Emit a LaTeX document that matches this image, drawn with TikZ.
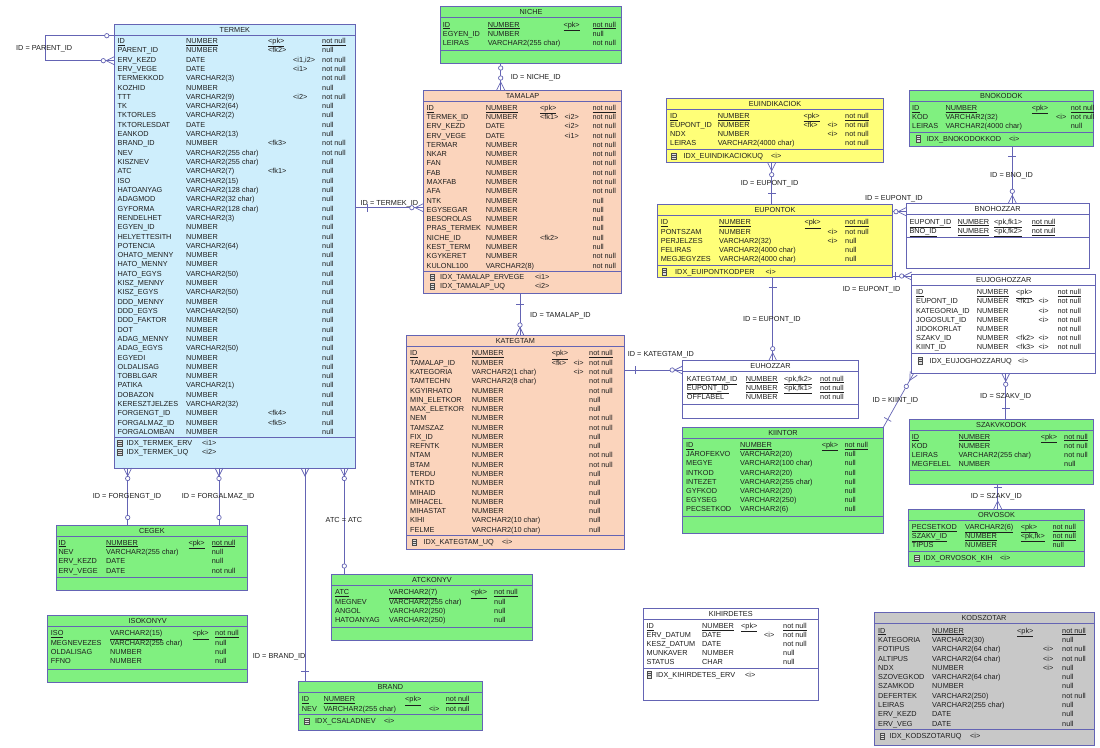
\documentclass[tikz,border=0pt]{standalone}
\usepackage{fontspec}
\setmainfont{Liberation Sans}
\usetikzlibrary{decorations.markings}
\definecolor{lnc}{RGB}{100,100,180}
\definecolor{txc}{RGB}{30,30,30}
\definecolor{cblue}{RGB}{206,238,252}
\definecolor{cgreen}{RGB}{128,240,128}
\definecolor{cpeach}{RGB}{251,212,188}
\definecolor{cyellow}{RGB}{255,255,120}
\definecolor{cgrey}{RGB}{200,200,200}
\newcounter{fc}
\newcommand\fnt{\fontsize{7.3}{8}\selectfont}
\tikzset{
  tbl/.style={draw=lnc, line width=0.8pt, anchor=north west, inner sep=0pt, outer sep=0pt},
  tline/.style={draw=lnc, line width=0.8pt},
  fld/.style={font=\fnt, text=txc, anchor=base west, inner sep=0pt, yshift=-2.6pt},
  ttl/.style={font=\fnt, text=txc, anchor=base, inner sep=0pt, yshift=-2.6pt},
  icn/.style={draw=black!70, fill=black!12, line width=0.4pt},
  rel/.style={draw=lnc, line width=0.7pt},
  mk/.style 2 args={postaction={decorate,decoration={markings,mark=at position #1 with {#2}}}},
  bar/.style={mk={#1}{\draw[lnc,line width=0.7pt] (0pt,-4pt) -- (0pt,4pt);}},
  circ/.style={mk={#1}{\draw[lnc,line width=0.7pt,fill=white] (0pt,0pt) circle (2.2pt);}},
  crowE/.style={mk={-8pt}{\draw[lnc,line width=0.7pt] (8pt,4pt) -- (0pt,0pt) -- (8pt,-4pt);}},
  crowS/.style={mk={8pt}{\draw[lnc,line width=0.7pt] (-8pt,4pt) -- (0pt,0pt) -- (-8pt,-4pt);}},
}
\newcommand\ent[7]{%
  \node[tbl, fill=#6, minimum width=#4pt, minimum height=#5pt] (#1) at (#2,#3) {};
  \draw[tline] (#2,#3+11) -- (#2+#4,#3+11);
  \node[ttl] (#1T) at (#2+#4/2,#3+5.5) {#7};
  \def\tx{#2}\def\tw{#4}}
\newcommand\sep[1]{\draw[tline] (\tx,#1) -- (\tx+\tw,#1);}
\newcommand\cols[5]{\def\ca{#1}\def\cb{#2}\def\cc{#3}\def\cd{#4}\def\ce{#5}}
\newcommand\rows[2]{\def\ry{#1}\def\rd{#2}}
\newcommand\fl[3]{\if\relax\detokenize{#3}\relax\else\stepcounter{fc}\node[fld] (f\arabic{fc}) at (#1,#2) {#3};\fi}
\newcommand\flu[3]{\if\relax\detokenize{#3}\relax\else\stepcounter{fc}\node[fld] (f\arabic{fc}) at (#1,#2) {\underline{#3}};\fi}
\newcommand\R[5]{\fl\ca\ry{#1}\fl\cb\ry{#2}\fl\cc\ry{#3}\fl\cd\ry{#4}\fl\ce\ry{#5}\pgfmathsetmacro\ry{\ry+\rd}}
\newcommand\RU[5]{\flu\ca\ry{#1}\flu\cb\ry{#2}\flu\cc\ry{#3}\flu\cd\ry{#4}\flu\ce\ry{#5}\pgfmathsetmacro\ry{\ry+\rd}}
\newcommand\IX[6]{%
  \draw[icn] (#1-2.3,#4-3.3) rectangle (#1+2.3,#4+3.3);
  \draw[black!70,line width=0.35pt] (#1-2.3,#4-1.1) -- (#1+2.3,#4-1.1) (#1-2.3,#4+1.1) -- (#1+2.3,#4+1.1);
  \fl{#2}{#4}{#5}\fl{#3}{#4}{#6}}
\newcommand\lb[4]{\node[fld] (#1) at (#2,#3) {#4};}
\begin{document}
\begin{tikzpicture}[x=1pt,y=-1pt]
\fill[white] (0,0) rectangle (1100,747);
\useasboundingbox (0,0) rectangle (1100,747);

% ---------------- TERMEK
\ent{TERMEK}{114.3}{24}{241}{444}{cblue}{TERMEK}
\cols{117.5}{186}{268}{293}{322}\rows{40.9}{9.31}
\RU{ID}{NUMBER}{<pk>}{}{not null}
\R{PARENT\_ID}{NUMBER}{<fk2>}{}{null}
\R{ERV\_KEZD}{DATE}{}{<i1,i2>}{not null}
\R{ERV\_VEGE}{DATE}{}{<i1>}{not null}
\R{TERMEKKOD}{VARCHAR2(3)}{}{}{not null}
\R{KOZHID}{NUMBER}{}{}{null}
\R{TTT}{VARCHAR2(9)}{}{<i2>}{not null}
\R{TK}{VARCHAR2(64)}{}{}{null}
\R{TKTORLES}{VARCHAR2(2)}{}{}{null}
\R{TKTORLESDAT}{DATE}{}{}{null}
\R{EANKOD}{VARCHAR2(13)}{}{}{null}
\R{BRAND\_ID}{NUMBER}{<fk3>}{}{not null}
\R{NEV}{VARCHAR2(255 char)}{}{}{not null}
\R{KISZNEV}{VARCHAR2(255 char)}{}{}{null}
\R{ATC}{VARCHAR2(7)}{<fk1>}{}{null}
\R{ISO}{VARCHAR2(15)}{}{}{null}
\R{HATOANYAG}{VARCHAR2(128 char)}{}{}{null}
\R{ADAGMOD}{VARCHAR2(32 char)}{}{}{null}
\R{GYFORMA}{VARCHAR2(128 char)}{}{}{null}
\R{RENDELHET}{VARCHAR2(3)}{}{}{null}
\R{EGYEN\_ID}{NUMBER}{}{}{null}
\R{HELYETTESITH}{NUMBER}{}{}{null}
\R{POTENCIA}{VARCHAR2(64)}{}{}{null}
\R{OHATO\_MENNY}{NUMBER}{}{}{null}
\R{HATO\_MENNY}{NUMBER}{}{}{null}
\R{HATO\_EGYS}{VARCHAR2(50)}{}{}{null}
\R{KISZ\_MENNY}{NUMBER}{}{}{null}
\R{KISZ\_EGYS}{VARCHAR2(50)}{}{}{null}
\R{DDD\_MENNY}{NUMBER}{}{}{null}
\R{DDD\_EGYS}{VARCHAR2(50)}{}{}{null}
\R{DDD\_FAKTOR}{NUMBER}{}{}{null}
\R{DOT}{NUMBER}{}{}{null}
\R{ADAG\_MENNY}{NUMBER}{}{}{null}
\R{ADAG\_EGYS}{VARCHAR2(50)}{}{}{null}
\R{EGYEDI}{NUMBER}{}{}{null}
\R{OLDALISAG}{NUMBER}{}{}{null}
\R{TOBBLGAR}{NUMBER}{}{}{null}
\R{PATIKA}{VARCHAR2(1)}{}{}{null}
\R{DOBAZON}{NUMBER}{}{}{null}
\R{KERESZTJELZES}{VARCHAR2(32)}{}{}{null}
\R{FORGENGT\_ID}{NUMBER}{<fk4>}{}{null}
\R{FORGALMAZ\_ID}{NUMBER}{<fk5>}{}{null}
\R{FORGALOMBAN}{NUMBER}{}{}{null}
\sep{437.8}
\IX{119.8}{126.5}{202}{443}{IDX\_TERMEK\_ERV}{<i1>}
\IX{119.8}{126.5}{202}{452.3}{IDX\_TERMEK\_UQ}{<i2>}

% ---------------- NICHE
\ent{NICHE}{440.3}{6.5}{181.5}{57}{cgreen}{NICHE}
\cols{442.7}{487.7}{563.3}{}{592.3}\rows{24.6}{9.1}
\RU{ID}{NUMBER}{<pk>}{}{not null}
\R{EGYEN\_ID}{NUMBER}{}{}{null}
\R{LEIRAS}{VARCHAR2(255 char)}{}{}{not null}
\sep{50}

% ---------------- TAMALAP
\ent{TAMALAP}{423.3}{90}{198.5}{203.3}{cpeach}{TAMALAP}
\cols{426.5}{485.7}{540}{564.5}{592.3}\rows{107.7}{9.28}
\RU{ID}{NUMBER}{<pk>}{}{not null}
\R{TERMEK\_ID}{NUMBER}{<fk1>}{<i2>}{not null}
\R{ERV\_KEZD}{DATE}{}{<i2>}{not null}
\R{ERV\_VEGE}{DATE}{}{<i1>}{not null}
\R{TERMAR}{NUMBER}{}{}{not null}
\R{NKAR}{NUMBER}{}{}{not null}
\R{FAN}{NUMBER}{}{}{not null}
\R{FAB}{NUMBER}{}{}{not null}
\R{MAXFAB}{NUMBER}{}{}{not null}
\R{AFA}{NUMBER}{}{}{not null}
\R{NTK}{NUMBER}{}{}{null}
\R{EGYSEGAR}{NUMBER}{}{}{null}
\R{BESOROLAS}{NUMBER}{}{}{null}
\R{PRAS\_TERMEK}{NUMBER}{}{}{null}
\R{NICHE\_ID}{NUMBER}{<fk2>}{}{null}
\R{KEST\_TERM}{NUMBER}{}{}{null}
\R{KGYKERET}{NUMBER}{}{}{not null}
\R{KULONL100}{VARCHAR2(8)}{}{}{not null}
\sep{271.3}
\IX{432.3}{440}{535}{277.3}{IDX\_TAMALAP\_ERVEGE}{<i1>}
\IX{432.3}{440}{535}{286.3}{IDX\_TAMALAP\_UQ}{<i2>}

% ---------------- KATEGTAM
\ent{KATEGTAM}{406.7}{335.5}{217.3}{213.8}{cpeach}{KATEGTAM}
\cols{410}{471.7}{551.7}{573.3}{589}\rows{353.3}{9.28}
\RU{ID}{NUMBER}{<pk>}{}{not null}
\R{TAMALAP\_ID}{NUMBER}{<fk>}{<i>}{not null}
\R{KATEGORIA}{VARCHAR2(1 char)}{}{<i>}{not null}
\R{TAMTECHN}{VARCHAR2(8 char)}{}{}{not null}
\R{KGYIRHATO}{NUMBER}{}{}{not null}
\R{MIN\_ELETKOR}{NUMBER}{}{}{null}
\R{MAX\_ELETKOR}{NUMBER}{}{}{null}
\R{NEM}{NUMBER}{}{}{not null}
\R{TAMSZAZ}{NUMBER}{}{}{not null}
\R{FIX\_ID}{NUMBER}{}{}{null}
\R{REFNTK}{NUMBER}{}{}{null}
\R{NTAM}{NUMBER}{}{}{not null}
\R{BTAM}{NUMBER}{}{}{not null}
\R{TERDU}{NUMBER}{}{}{null}
\R{NTKTD}{NUMBER}{}{}{null}
\R{MIHAID}{NUMBER}{}{}{null}
\R{MIHACEL}{NUMBER}{}{}{null}
\R{MIHASTAT}{NUMBER}{}{}{null}
\R{KIHI}{VARCHAR2(10 char)}{}{}{null}
\R{FELME}{VARCHAR2(10 char)}{}{}{null}
\sep{535.8}
\IX{414}{423.3}{502}{542.3}{IDX\_KATEGTAM\_UQ}{<i>}

% ---------------- EUINDIKACIOK
\ent{EUINDIKACIOK}{666.7}{98.3}{216.6}{64.4}{cyellow}{EUINDIKACIOK}
\cols{670}{717.7}{803.3}{827.3}{845}\rows{115.9}{9.15}
\RU{ID}{NUMBER}{<pk>}{}{not null}
\R{EUPONT\_ID}{NUMBER}{<fk>}{<i>}{not null}
\R{NDX}{NUMBER}{}{<i>}{not null}
\R{LEIRAS}{VARCHAR2(4000 char)}{}{}{not null}
\sep{149.7}
\IX{673.5}{683.3}{771}{156}{IDX\_EUINDIKACIOKUQ}{<i>}

% ---------------- EUPONTOK
\ent{EUPONTOK}{657.3}{204.3}{235.4}{73}{cyellow}{EUPONTOK}
\cols{660.7}{719}{804.3}{827.3}{845}\rows{222.2}{9.2}
\RU{ID}{NUMBER}{<pk>}{}{not null}
\R{PONTSZAM}{NUMBER}{}{<i>}{not null}
\R{PERJELZES}{VARCHAR2(32)}{}{<i>}{null}
\R{FELIRAS}{VARCHAR2(4000 char)}{}{}{null}
\R{MEGJEGYZES}{VARCHAR2(4000 char)}{}{}{null}
\sep{265.2}
\IX{664.3}{675}{765.5}{271.5}{IDX\_EUIPONTKODPER}{<i>}

% ---------------- BNOKODOK
\ent{BNOKODOK}{909.3}{90}{184}{56.7}{cgreen}{BNOKODOK}
\cols{912}{945.3}{1031.7}{1056}{1070.7}\rows{107.7}{9.2}
\RU{ID}{NUMBER}{<pk>}{}{not null}
\R{KOD}{VARCHAR2(32)}{}{<i>}{not null}
\R{LEIRAS}{VARCHAR2(4000 char)}{}{}{null}
\sep{132.3}
\IX{918.3}{926.7}{1009}{138.5}{IDX\_BNOKODOKKOD}{<i>}

% ---------------- BNOHOZZAR
\ent{BNOHOZZAR}{906}{203.3}{183.3}{65}{white}{BNOHOZZAR}
\cols{909.3}{957.3}{994}{}{1031.7}\rows{221.5}{9.3}
\RU{EUPONT\_ID}{NUMBER}{<pk,fk1>}{}{not null}
\RU{BNO\_ID}{NUMBER}{<pk,fk2>}{}{not null}
\sep{237.5}

% ---------------- EUJOGHOZZAR
\ent{EUJOGHOZZAR}{911.7}{274.3}{184}{99}{white}{EUJOGHOZZAR}
\cols{916}{976.7}{1016}{1038.3}{1057.3}\rows{292.2}{9.18}
\RU{ID}{NUMBER}{<pk>}{}{not null}
\R{EUPONT\_ID}{NUMBER}{<fk1>}{<i>}{not null}
\R{KATEGORIA\_ID}{NUMBER}{}{<i>}{not null}
\R{JOGOSULT\_ID}{NUMBER}{}{<i>}{not null}
\R{JIDOKORLAT}{NUMBER}{}{}{not null}
\R{SZAKV\_ID}{NUMBER}{<fk2>}{<i>}{not null}
\R{KIINT\_ID}{NUMBER}{<fk3>}{<i>}{not null}
\sep{353.8}
\IX{920}{929.3}{1018}{360.5}{IDX\_EUJOGHOZZARUQ}{<i>}

% ---------------- EUHOZZAR
\ent{EUHOZZAR}{682.7}{360.7}{175.6}{57.6}{white}{EUHOZZAR}
\cols{686.7}{745.7}{784}{}{820}\rows{378.6}{9.1}
\RU{KATEGTAM\_ID}{NUMBER}{<pk,fk2>}{}{not null}
\RU{EUPONT\_ID}{NUMBER}{<pk,fk1>}{}{not null}
\R{OFFLABEL}{NUMBER}{}{}{not null}
\sep{404.8}

% ---------------- KIINTOR
\ent{KIINTOR}{682.7}{427.3}{200.6}{106}{cgreen}{KIINTOR}
\cols{686}{740}{821.7}{}{844.3}\rows{445}{9.19}
\RU{ID}{NUMBER}{<pk>}{}{not null}
\R{JAROFEKVO}{VARCHAR2(20)}{}{}{null}
\R{MEGYE}{VARCHAR2(100 char)}{}{}{null}
\R{INTKOD}{VARCHAR2(20)}{}{}{null}
\R{INTEZET}{VARCHAR2(255 char)}{}{}{null}
\R{GYFKOD}{VARCHAR2(20)}{}{}{null}
\R{EGYSEG}{VARCHAR2(250)}{}{}{null}
\R{PECSETKOD}{VARCHAR2(6)}{}{}{null}
\sep{516}

% ---------------- SZAKVKODOK
\ent{SZAKVKODOK}{909.3}{419}{184}{65}{cgreen}{SZAKVKODOK}
\cols{911.7}{958.3}{1040.7}{}{1064}\rows{436.6}{9.2}
\RU{ID}{NUMBER}{<pk>}{}{not null}
\R{KOD}{NUMBER}{}{}{not null}
\R{LEIRAS}{VARCHAR2(255 char)}{}{}{not null}
\R{MEGFELEL}{NUMBER}{}{}{null}
\sep{470.8}

% ---------------- ORVOSOK
\ent{ORVOSOK}{908.7}{509}{175.6}{57.7}{cgreen}{ORVOSOK}
\cols{911.7}{965}{1020.7}{}{1052.3}\rows{527}{9}
\RU{PECSETKOD}{VARCHAR2(6)}{<pk>}{}{not null}
\RU{SZAKV\_ID}{NUMBER}{<pk,fk>}{}{not null}
\R{TIPUS}{NUMBER}{}{}{null}
\sep{551.2}
\IX{916.7}{923.3}{1000}{558}{IDX\_ORVOSOK\_KIH}{<i>}

% ---------------- CEGEK
\ent{CEGEK}{56}{525}{191.7}{65}{cgreen}{CEGEK}
\cols{58.3}{106}{188.3}{}{211.7}\rows{542.4}{9.4}
\RU{ID}{NUMBER}{<pk>}{}{not null}
\R{NEV}{VARCHAR2(255 char)}{}{}{null}
\R{ERV\_KEZD}{DATE}{}{}{null}
\R{ERV\_VEGE}{DATE}{}{}{not null}
\sep{577}

% ---------------- ISOKONYV
\ent{ISOKONYV}{47.7}{615.7}{200}{67}{cgreen}{ISOKONYV}
\cols{50.7}{110}{192.3}{}{215}\rows{633.3}{9.25}
\RU{ISO}{VARCHAR2(15)}{<pk>}{}{not null}
\R{MEGNEVEZES}{VARCHAR2(255 char)}{}{}{null}
\R{OLDALISAG}{NUMBER}{}{}{null}
\R{FFNO}{NUMBER}{}{}{null}
\sep{669}

% ---------------- ATCKONYV
\ent{ATCKONYV}{331.7}{574}{200.6}{66}{cgreen}{ATCKONYV}
\cols{335}{389}{470.7}{}{494}\rows{592.3}{9.3}
\RU{ATC}{VARCHAR2(7)}{<pk>}{}{not null}
\R{MEGNEV}{VARCHAR2(255 char)}{}{}{null}
\R{ANGOL}{VARCHAR2(250)}{}{}{null}
\R{HATOANYAG}{VARCHAR2(250)}{}{}{null}
\sep{627}

% ---------------- BRAND
\ent{BRAND}{298.3}{681.7}{184}{49}{cgreen}{BRAND}
\cols{301.7}{323.3}{405}{429}{445.7}\rows{699.3}{9.35}
\RU{ID}{NUMBER}{<pk>}{}{not null}
\R{NEV}{VARCHAR2(255 char)}{}{<i>}{not null}
\sep{714.5}
\IX{306.7}{315}{384}{721}{IDX\_CSALADNEV}{<i>}

% ---------------- KIHIRDETES
\ent{KIHIRDETES}{643.3}{608.3}{175}{91.7}{white}{KIHIRDETES}
\cols{646.5}{702}{741}{764}{783}\rows{626}{9}
\RU{ID}{NUMBER}{<pk>}{}{not null}
\R{ERV\_DATUM}{DATE}{}{<i>}{not null}
\R{KESZ\_DATUM}{DATE}{}{}{not null}
\R{MUNKAVER}{NUMBER}{}{}{null}
\R{STATUS}{CHAR}{}{}{null}
\sep{668}
\IX{649}{656}{745}{674.5}{IDX\_KIHIRDETES\_ERV}{<i>}

% ---------------- KODSZOTAR
\ent{KODSZOTAR}{874}{612}{220}{133}{cgrey}{KODSZOTAR}
\cols{878}{932}{1017}{1043}{1062}\rows{630.5}{9.3}
\RU{ID}{NUMBER}{<pk>}{}{not null}
\R{KATEGORIA}{VARCHAR2(30)}{}{}{null}
\R{FOTIPUS}{VARCHAR2(64 char)}{}{<i>}{not null}
\R{ALTIPUS}{VARCHAR2(64 char)}{}{<i>}{not null}
\R{NDX}{NUMBER}{}{<i>}{null}
\R{SZOVEGKOD}{VARCHAR2(64 char)}{}{}{null}
\R{SZAMKOD}{NUMBER}{}{}{null}
\R{DEFERTEK}{VARCHAR2(250)}{}{}{not null}
\R{LEIRAS}{VARCHAR2(255 char)}{}{}{null}
\R{ERV\_KEZD}{DATE}{}{}{null}
\R{ERV\_VEG}{DATE}{}{}{null}
\sep{729.8}
\IX{882.3}{889.3}{970}{736.3}{IDX\_KODSZOTARUQ}{<i>}

% ---------------- relationships
\coordinate (sx) at (45,0);
\draw[rel, circ=7.5pt, circ=-11pt, crowE] (TERMEK.west |- 0,35.7) -- (sx |- 0,35.7) -- (sx |- 0,60.7) -- (TERMEK.west |- 0,60.7);
\draw[rel, circ=4.5pt, circ=-12pt, crowE] (NICHE.south -| 500.7,0) -- (TAMALAP.north -| 500.7,0);
\draw[rel, bar=12pt, circ=-11.5pt, crowE] (TERMEK.east |- 0,207.7) -- (TAMALAP.west |- 0,207.7);
\draw[rel, bar=11pt, circ=-10.5pt, crowE] (TAMALAP.south -| 520,0) -- (KATEGTAM.north -| 520,0);
\draw[rel, bar=11pt, circ=-10.5pt, crowE] (KATEGTAM.east |- 0,370) -- (EUHOZZAR.west |- 0,370);
\draw[rel, bar=10.5pt, circ=-12pt, crowE] (EUPONTOK.south -| 772.7,0) -- (EUHOZZAR.north -| 772.7,0);
\draw[rel, bar=10.5pt, circ=-12pt, crowE] (EUPONTOK.north -| 771.7,0) -- (EUINDIKACIOK.south -| 771.7,0);
\draw[rel, bar=10pt, circ=-12pt, crowE] (BNOKODOK.south -| 1012.3,0) -- (BNOHOZZAR.north -| 1012.3,0);
\draw[rel, circ=-10pt, crowE] (EUPONTOK.east |- 0,211.7) -- (BNOHOZZAR.west |- 0,211.7);
\draw[rel, bar=3pt, circ=-10pt, crowE] (EUPONTOK.east |- 0,276) -- (EUJOGHOZZAR.west |- 0,276);
\draw[rel, bar=10.5pt, circ=-11pt, crowE] (SZAKVKODOK.north -| 1005.7,0) -- (EUJOGHOZZAR.south -| 1005.7,0);
\draw[rel, bar=9pt, circ=-15pt, crowE] (KIINTOR.north east) -- ([xshift=2pt]EUJOGHOZZAR.south west);
\draw[rel, bar=3.5pt, crowE] (SZAKVKODOK.south -| 997.7,0) -- (ORVOSOK.north -| 997.7,0);
\draw[rel, crowS, circ=10.5pt, circ=-7.5pt] (TERMEK.south -| 127.7,0) -- (CEGEK.north -| 127.7,0);
\draw[rel, crowS, circ=10.5pt, circ=-7.5pt] (TERMEK.south -| 219,0) -- (CEGEK.north -| 219,0);
\draw[rel, crowS, circ=10.5pt, circ=-8pt] (TERMEK.south -| 344.3,0) -- (ATCKONYV.north -| 344.3,0);
\draw[rel, crowS, bar=-10.5pt] (TERMEK.south -| 305,0) -- (BRAND.north -| 305,0);

% ---------------- labels
\lb{l1}{16}{48.3}{ID = PARENT\_ID}
\lb{l2}{510.7}{76.7}{ID = NICHE\_ID}
\lb{l3}{360.5}{203}{ID = TERMEK\_ID}
\lb{l4}{530}{315}{ID = TAMALAP\_ID}
\lb{l5}{627.7}{354}{ID = KATEGTAM\_ID}
\lb{l6}{743}{319}{ID = EUPONT\_ID}
\lb{l7}{740.7}{183.3}{ID = EUPONT\_ID}
\lb{l8}{865}{197.7}{ID = EUPONT\_ID}
\lb{l9}{842.7}{289}{ID = EUPONT\_ID}
\lb{l10}{990}{175}{ID = BNO\_ID}
\lb{l11}{980}{395.7}{ID = SZAKV\_ID}
\lb{l12}{872.3}{400}{ID = KIINT\_ID}
\lb{l13}{970.7}{495.7}{ID = SZAKV\_ID}
\lb{l14}{92.7}{496}{ID = FORGENGT\_ID}
\lb{l15}{181.7}{496}{ID = FORGALMAZ\_ID}
\lb{l16}{325.5}{520}{ATC = ATC}
\lb{l17}{252.7}{656}{ID = BRAND\_ID}
\end{tikzpicture}
\end{document}
